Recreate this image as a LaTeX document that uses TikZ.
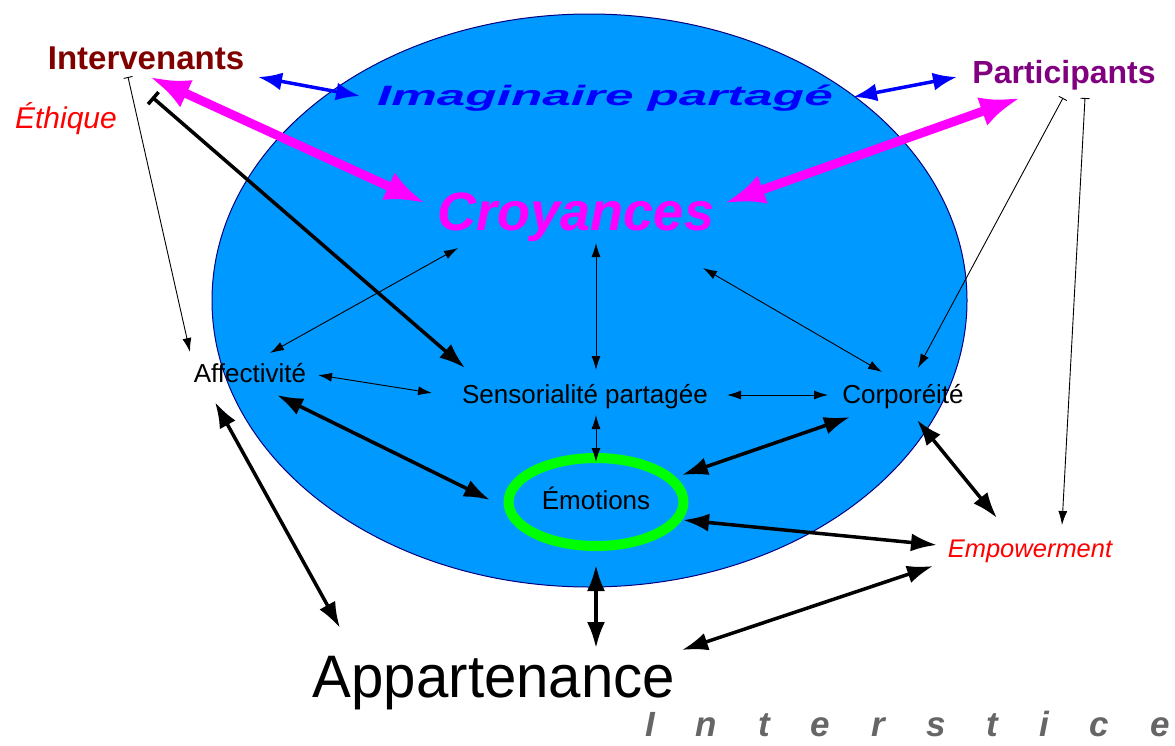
\documentclass[tikz,border=0pt]{standalone}
\usepackage{fontspec}
\setmainfont{Liberation Sans}
\usetikzlibrary{arrows.meta}
\definecolor{skyfill}{RGB}{0,153,255}
\definecolor{ellline}{RGB}{0,0,128}
\definecolor{intcol}{RGB}{128,0,0}
\definecolor{partcol}{RGB}{128,0,128}
\definecolor{magcol}{RGB}{255,0,255}
\definecolor{bluecol}{RGB}{0,0,255}
\definecolor{greencol}{RGB}{0,255,0}
\definecolor{redcol}{RGB}{255,0,0}
\definecolor{graycol}{RGB}{102,102,102}
\tikzset{
  lbl/.style={anchor=base, inner sep=0pt, outer sep=0pt},
  thinarr/.style={line width=0.9pt, {Latex[length=14pt,width=9pt]}-{Latex[length=14pt,width=9pt]}},
  thickarr/.style={line width=3.5pt, {Latex[length=26pt,width=18pt]}-{Latex[length=26pt,width=18pt]}},
  magarr/.style={draw=magcol, line width=9pt, {Latex[length=40pt,width=30pt]}-{Latex[length=40pt,width=30pt]}},
  bluearr/.style={draw=bluecol, line width=3.5pt, {Latex[length=24pt,width=18pt]}-{Latex[length=24pt,width=18pt]}},
  thinbar/.style={line width=0.9pt, {Bar[width=9pt]}-{Latex[length=14pt,width=9pt]}},
  thickbar/.style={line width=3.5pt, {Bar[width=16pt]}-{Latex[length=26pt,width=18pt]}},
}
\begin{document}
\begin{tikzpicture}[x=1pt,y=-1pt]
\useasboundingbox (0,0) rectangle (1175,745);
% big ellipse
\draw[fill=skyfill, draw=ellline, line width=1pt] (589.5,300.5) ellipse [x radius=377.5, y radius=286.5];
% green ring
\draw[draw=greencol, line width=10pt] (596,502) ellipse [x radius=87.5, y radius=44];

% nodes
\node[lbl, text=intcol] (Intv) at (146,69) {\fontsize{33}{36}\selectfont\bfseries Intervenants};
\node[lbl, text=redcol] (Eth) at (66,128) {\fontsize{30}{34}\selectfont\itshape Éthique};
\node[lbl, text=bluecol] (Imag) at (605,105) {\scalebox{1.83}[1]{\fontsize{28}{32}\selectfont\bfseries\itshape Imaginaire partagé}};
\node[lbl, text=partcol] (Part) at (1064,83) {\fontsize{32}{36}\selectfont\bfseries Participants};
\node[lbl, text=magcol] (Croy) at (576,230) {\fontsize{54}{60}\selectfont\bfseries\itshape Croyances};
\node[lbl] (Aff) at (250,382) {\fontsize{26}{30}\selectfont Affectivité};
\node[lbl] (Sens) at (585,403) {\fontsize{26}{30}\selectfont Sensorialité partagée};
\node[lbl] (Corp) at (903,403) {\fontsize{26}{30}\selectfont Corporéité};
\node[lbl] (Emo) at (596,509) {\fontsize{26}{30}\selectfont Émotions};
\node[lbl, text=redcol] (Emp) at (1030,557) {\fontsize{25.5}{30}\selectfont\itshape Empowerment};
\node[lbl] (App) at (494,697) {\scalebox{0.97}[1]{\fontsize{60}{66}\selectfont Appartenance}};
\node[anchor=base west, inner sep=0pt, text=graycol] (Inter) at (645,736) {\fontsize{35}{40}\selectfont\bfseries\itshape I\kern41pt n\kern41pt t\kern41pt e\kern41pt r\kern41pt s\kern41pt t\kern41pt i\kern41pt c\kern41pt e};

% blue arrows
\draw[bluearr] ([shift={(112,8)}]Intv.base) -- ([shift={(-245,-9)}]Imag.base);
\draw[bluearr] ([shift={(248,-8)}]Imag.base) -- ([shift={(-107,-6)}]Part.base);
% magenta arrows
\draw[magarr] ([shift={(4,8)}]Intv.base) -- ([shift={(-151,-27)}]Croy.base);
\draw[magarr] ([shift={(-44,15)}]Part.base) -- ([shift={(149,-27)}]Croy.base);
% bar connectors
\draw[thinbar] ([shift={(-18,8)}]Intv.base) -- ([shift={(-60,-30)}]Aff.base);
\draw[thickbar] ([shift={(6,28)}]Intv.base) -- ([shift={(-120,-35)}]Sens.base);
\draw[thinbar] ([shift={(-1,15)}]Part.base) -- ([shift={(15,-35)}]Corp.base);
\draw[thinbar] ([shift={(21,15)}]Part.base) -- ([shift={(32,-32)}]Emp.base);
% thin double arrows
\draw[thinarr] ([shift={(-118,18)}]Croy.base) -- ([shift={(20,-29)}]Aff.base);
\draw[thinarr] ([shift={(20,13)}]Croy.base) -- ([shift={(11,-33)}]Sens.base);
\draw[thinarr] ([shift={(127,38)}]Croy.base) -- ([shift={(-21,-31)}]Corp.base);
\draw[thinarr] ([shift={(68,-7)}]Aff.base) -- ([shift={(-153,-10)}]Sens.base);
\draw[thinarr] ([shift={(142,-8)}]Sens.base) -- ([shift={(-75,-8)}]Corp.base);
\draw[thinarr] ([shift={(11,12)}]Sens.base) -- ([shift={(0,-47)}]Emo.base);
% thick double arrows
\draw[thickarr] ([shift={(27,13)}]Aff.base) -- ([shift={(-106,-9)}]Emo.base);
\draw[thickarr] ([shift={(-53,14)}]Corp.base) -- ([shift={(86,-34)}]Emo.base);
\draw[thickarr] ([shift={(14,17)}]Corp.base) -- ([shift={(-33,-39)}]Emp.base);
\draw[thickarr] ([shift={(87,11)}]Emo.base) -- ([shift={(-93,-12)}]Emp.base);
\draw[thickarr] ([shift={(-35,20)}]Aff.base) -- ([shift={(-154,-69)}]App.base);
\draw[thickarr] ([shift={(0,56)}]Emo.base) -- ([shift={(102,-49)}]App.base);
\draw[thickarr] ([shift={(188,-47)}]App.base) -- ([shift={(-97,9)}]Emp.base);
\end{tikzpicture}
\end{document}
